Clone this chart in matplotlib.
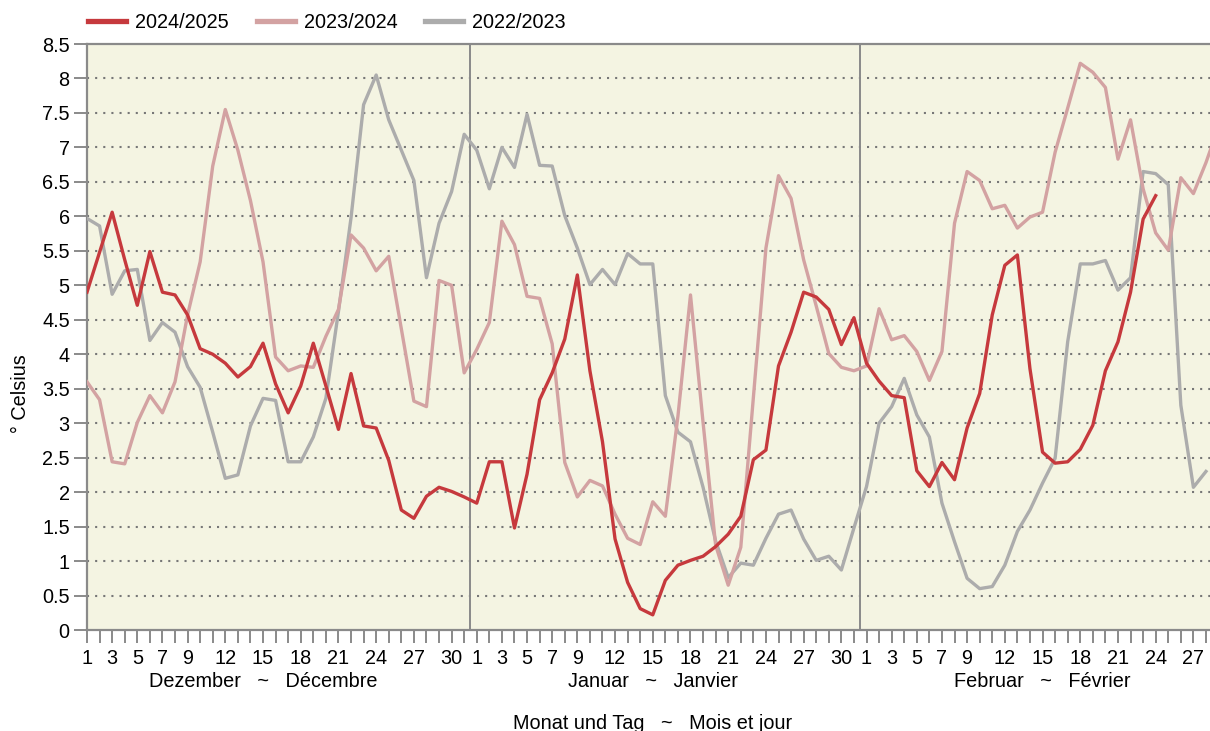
import numpy as np
import matplotlib
matplotlib.use("Agg")
import matplotlib.pyplot as plt
from matplotlib.transforms import blended_transform_factory

plt.rcParams['font.family'] = ['Liberation Sans', 'DejaVu Sans']

# daily mean temperature, Dec 1 .. Feb 28/29
temp_2425 = [
    4.9, 5.48, 6.06, 5.37, 4.71, 5.49, 4.9, 4.86, 4.57, 4.08, 4.0, 3.87, 3.67, 3.82, 4.16, 3.57,
    3.15, 3.54, 4.16, 3.54, 2.91, 3.72, 2.96, 2.93, 2.46, 1.74, 1.62, 1.94, 2.07, 2.01, 1.93,
    1.84, 2.44, 2.44, 1.48, 2.26, 3.34, 3.73, 4.22, 5.15, 3.76, 2.73, 1.32, 0.69, 0.31, 0.22, 0.72,
    0.94, 1.01, 1.07, 1.21, 1.39, 1.65, 2.47, 2.61, 3.83, 4.32, 4.9, 4.83, 4.65, 4.14, 4.53,
    3.87, 3.61, 3.4, 3.37, 2.31, 2.08, 2.43, 2.18, 2.93, 3.43, 4.57, 5.29, 5.44, 3.79, 2.58, 2.42,
    2.44, 2.62, 2.97, 3.76, 4.18, 4.9, 5.96, 6.3,
]
temp_2324 = [
    3.6, 3.34, 2.44, 2.41, 3.01, 3.4, 3.15, 3.6, 4.57, 5.34, 6.73, 7.55, 6.96, 6.23, 5.34, 3.96,
    3.76, 3.83, 3.81, 4.26, 4.65, 5.73, 5.54, 5.21, 5.42, 4.37, 3.32, 3.24, 5.07, 5.0, 3.73,
    4.07, 4.46, 5.93, 5.59, 4.84, 4.81, 4.15, 2.43, 1.93, 2.17, 2.09, 1.68, 1.33, 1.24, 1.86, 1.65,
    3.1, 4.86, 3.01, 1.23, 0.65, 1.2, 3.37, 5.54, 6.59, 6.26, 5.37, 4.7, 4.01, 3.81, 3.76,
    3.83, 4.66, 4.21, 4.27, 4.04, 3.62, 4.04, 5.9, 6.65, 6.52, 6.11, 6.16, 5.83, 5.99, 6.06, 6.93,
    7.57, 8.22, 8.09, 7.87, 6.83, 7.4, 6.4, 5.76, 5.51, 6.56, 6.33, 6.78, 7.3,
]
temp_2223 = [
    5.97, 5.86, 4.87, 5.21, 5.23, 4.2, 4.46, 4.32, 3.82, 3.52, 2.87, 2.2, 2.25, 2.96, 3.36, 3.33,
    2.44, 2.44, 2.8, 3.36, 4.62, 5.98, 7.62, 8.05, 7.4, 6.96, 6.52, 5.11, 5.9, 6.36, 7.19,
    6.96, 6.4, 7.0, 6.71, 7.48, 6.74, 6.73, 6.01, 5.54, 5.01, 5.23, 5.01, 5.46, 5.31, 5.31, 3.4,
    2.87, 2.73, 2.07, 1.29, 0.76, 0.97, 0.94, 1.33, 1.68, 1.74, 1.32, 1.01, 1.07, 0.87, 1.48,
    2.08, 3.0, 3.24, 3.65, 3.12, 2.8, 1.84, 1.28, 0.75, 0.6, 0.63, 0.94, 1.43, 1.74, 2.13, 2.49,
    4.18, 5.31, 5.31, 5.36, 4.93, 5.11, 6.65, 6.62, 6.46, 3.26, 2.07, 2.3,
]
month_lengths = [31, 31, 28]
month_names = ['Dezember   ~   Décembre', 'Januar   ~   Janvier', 'Februar   ~   Février']
labelled_days = [1, 3, 5, 7, 9, 12, 15, 18, 21, 24, 27, 30]

c_red = '#c6393d'
c_pink = '#d3a2a2'
c_grey = '#acacac'
c_frame = '#8a8a8a'
fs = 14.3

fig = plt.figure(figsize=(12.1, 7.31), dpi=100)
ax = fig.add_axes([87 / 1210, 101 / 731, 1123 / 1210, 586 / 731])
ax.set_facecolor('#f4f4e2')

ax.plot(np.arange(len(temp_2223)), temp_2223, color=c_grey, lw=2.4, label='2022/2023', zorder=3)
ax.plot(np.arange(len(temp_2324)), temp_2324, color=c_pink, lw=2.4, label='2023/2024', zorder=4)
ax.plot(np.arange(len(temp_2425)), temp_2425, color=c_red, lw=2.4, label='2024/2025', zorder=5)

ax.set_xlim(0, 89.32)
ax.set_ylim(0, 8.5)

# y axis
yt = np.arange(0, 8.51, 0.5)
ax.set_yticks(yt)
ax.set_yticklabels([f'{v:g}' for v in yt])
for v in yt[1:-1]:
    ax.axhline(v, color='#777777', lw=1.5, ls=(0, (1.0, 2.9)), zorder=1)

# x axis: one tick per day
days = [d for n in month_lengths for d in range(1, n + 1)]
ax.set_xticks(np.arange(len(days)))
ax.set_xticklabels([str(d) if d in labelled_days else '' for d in days])

ax.tick_params(axis='x', direction='out', length=9, width=1.4, color=c_frame,
               labelsize=fs, pad=5)
ax.tick_params(axis='y', direction='out', length=9.5, width=1.4, color=c_frame,
               labelsize=fs, pad=3)

for s in ['left', 'bottom', 'top']:
    ax.spines[s].set_color(c_frame)
    ax.spines[s].set_linewidth(1.6)
ax.spines['right'].set_visible(False)

# month separators
start = 0
for n in month_lengths[:-1]:
    start += n
    ax.axvline(start - 0.5, color=c_frame, lw=1.4, zorder=2)

# month captions centred on the 15th
tr = blended_transform_factory(ax.transData, fig.transFigure)
start = 0
for n, name in zip(month_lengths, month_names):
    ax.text(start + 14, 44 / 731, name, transform=tr,
            ha='center', va='baseline', fontsize=fs)
    start += n

fig.text(653 / 1210, 2 / 731, 'Monat und Tag   ~   Mois et jour', ha='center',
         va='baseline', fontsize=fs)
fig.text(20 / 1210, 337 / 731, '° Celsius', rotation=90, ha='center', va='center',
         fontsize=fs)

handles, labels = ax.get_legend_handles_labels()
leg = fig.legend(handles[::-1], labels[::-1], loc='center left', ncol=3,
                 bbox_to_anchor=(88 / 1210, 1 - 22 / 731), frameon=False,
                 fontsize=fs, handlelength=1.92, handletextpad=0.45,
                 columnspacing=1.4, borderpad=0, borderaxespad=0)
for h in leg.legend_handles:
    h.set_linewidth(3.8)

fig.savefig('out.png', dpi=100)
